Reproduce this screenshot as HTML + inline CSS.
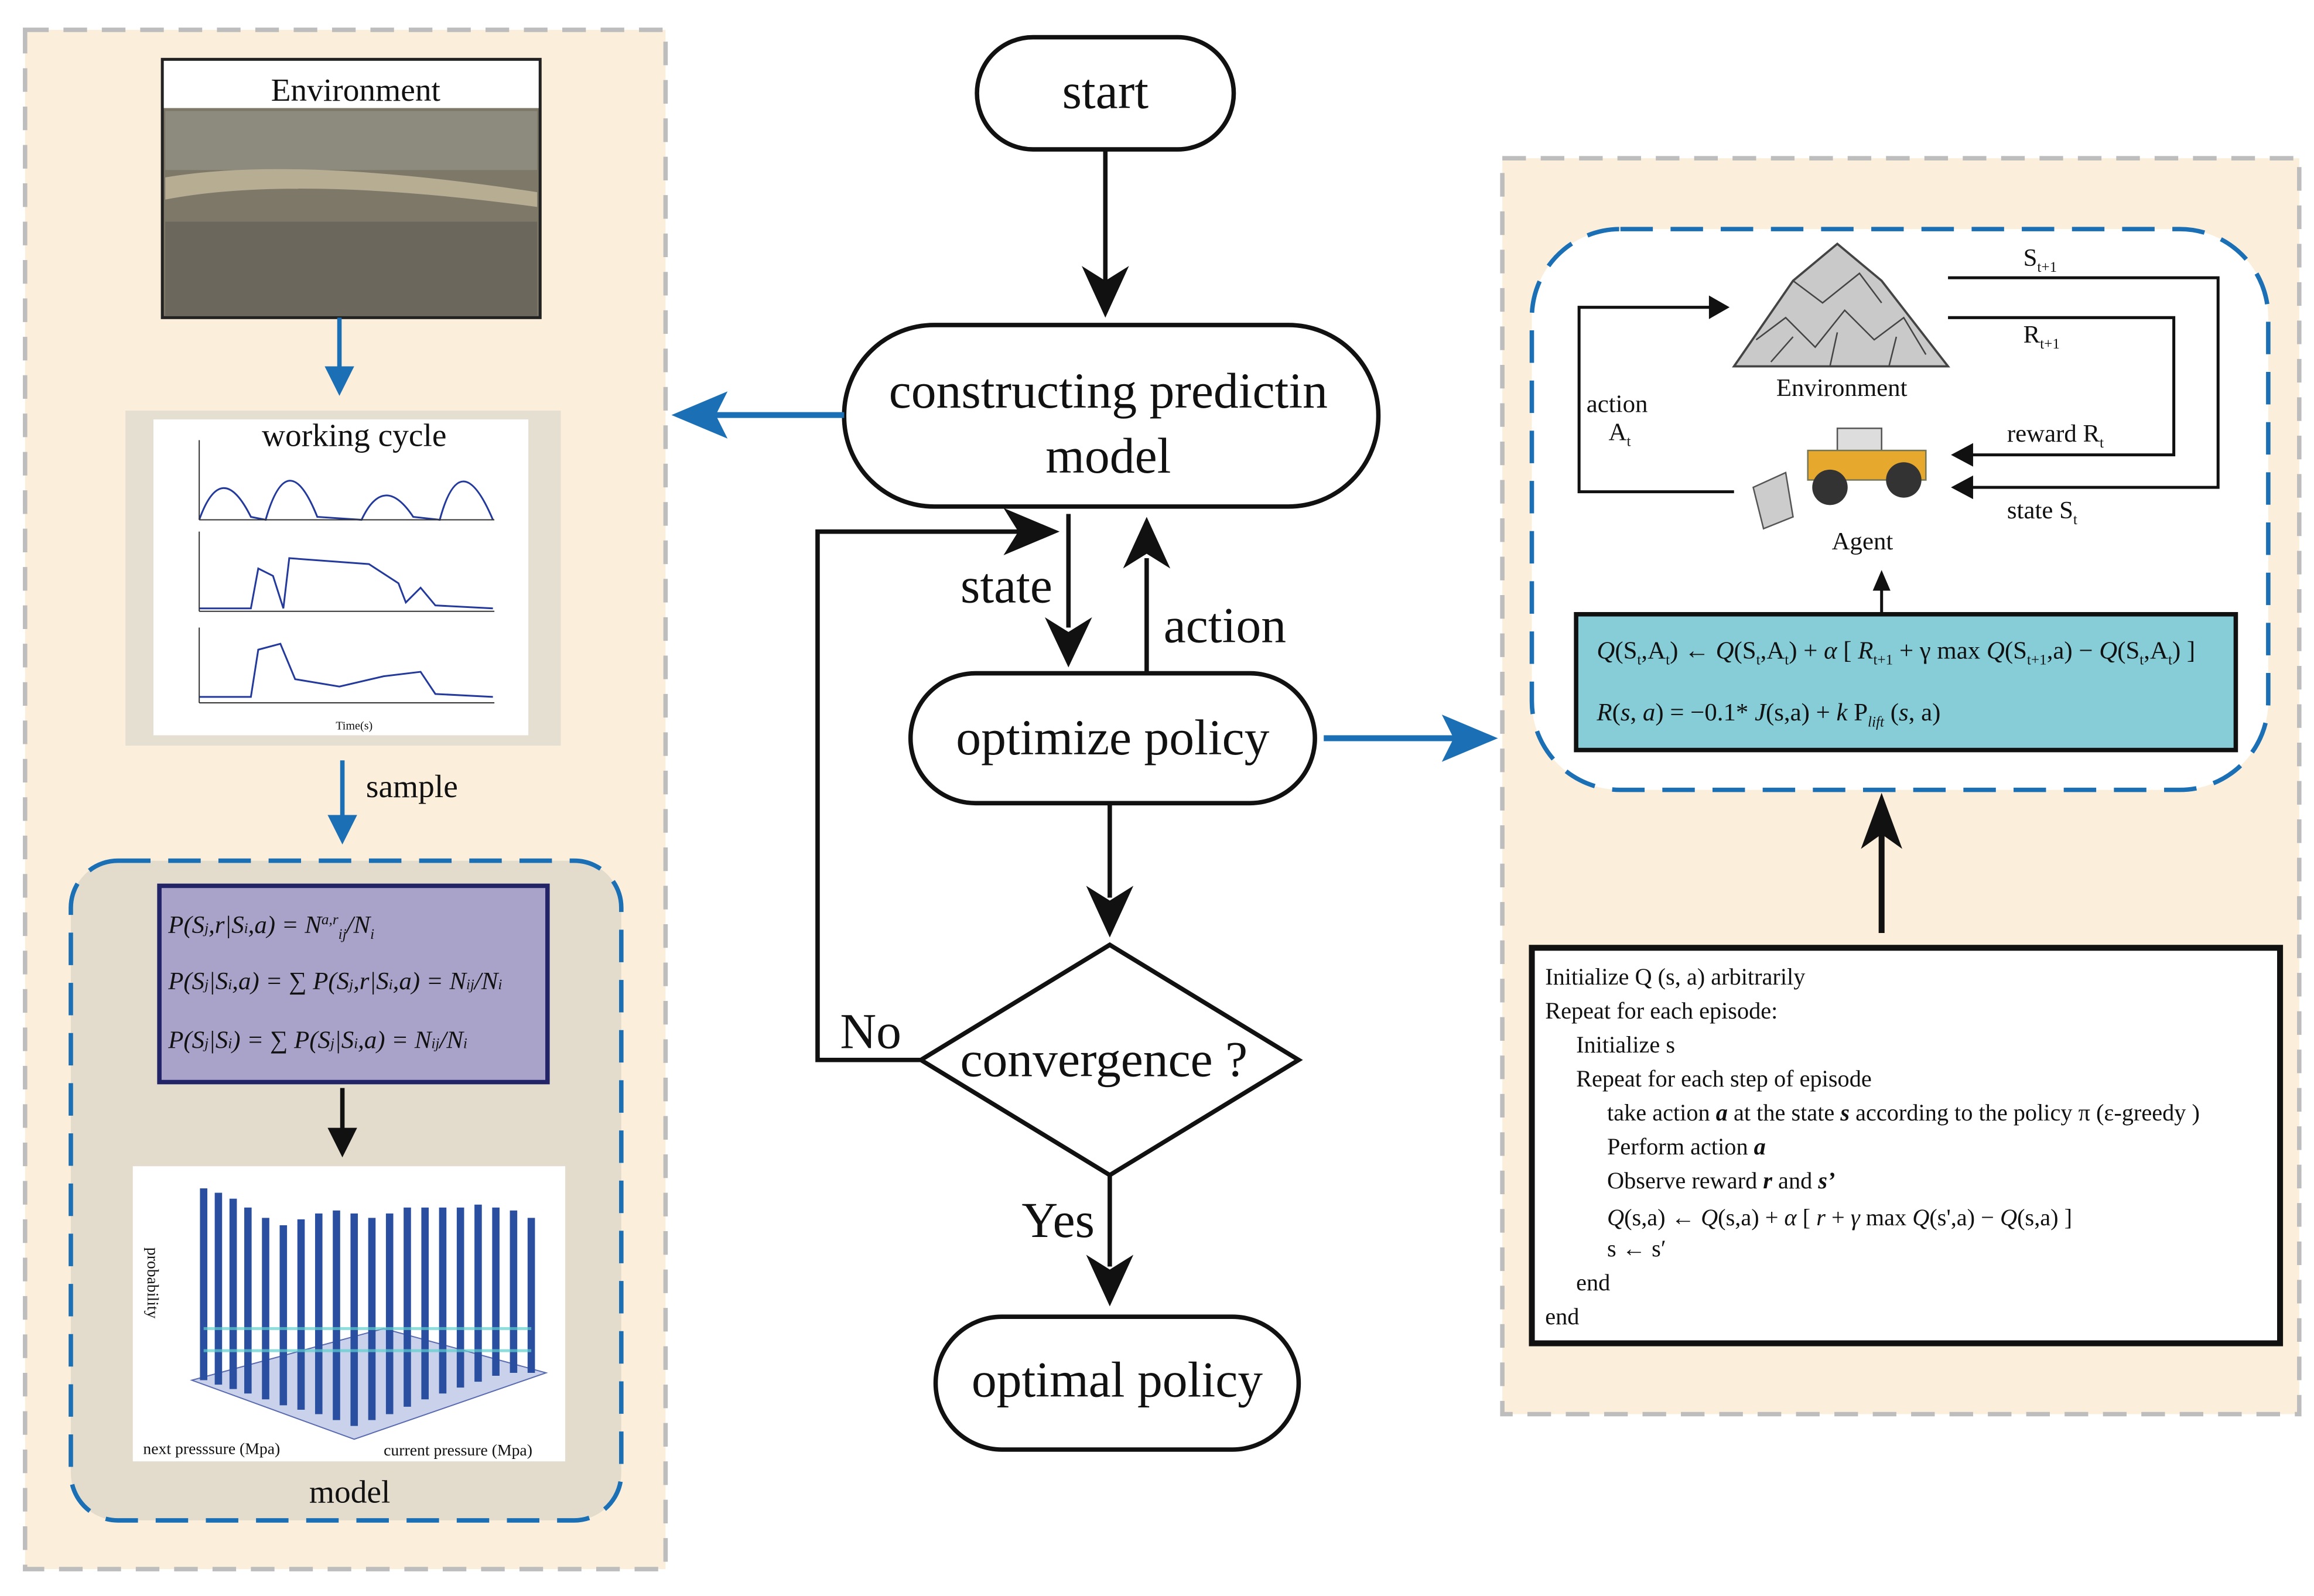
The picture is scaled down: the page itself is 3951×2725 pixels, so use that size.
<!DOCTYPE html>
<html><head><meta charset="utf-8"><style>
html,body{margin:0;padding:0;background:#fff}
svg{display:block}
text{font-family:"Liberation Serif",serif;fill:#111}
</style></head><body>
<svg width="3951" height="2725" viewBox="0 0 1568 1081" xmlns="http://www.w3.org/2000/svg">
<defs>
<marker id="ab" markerWidth="10" markerHeight="10" refX="8" refY="5" orient="auto" markerUnits="userSpaceOnUse"><path d="M0,0 L10,5 L0,10 Z" fill="#111"/></marker>
</defs>
<rect width="1568" height="1081" fill="#fff"/>
<!-- Left panel -->
<rect x="17" y="20" width="434" height="1043" fill="#fbefdb" stroke="#bdbdbd" stroke-width="3" stroke-dasharray="16,10"/>
<!-- env image -->
<rect x="110" y="40" width="256" height="175" fill="#7d7868" stroke="#222" stroke-width="2"/>
<rect x="112" y="75" width="252" height="40" fill="#8d8a7e"/>
<path d="M112,120 Q200,105 364,130 L364,140 Q200,118 112,135Z" fill="#b7ad93"/>
<rect x="112" y="150" width="252" height="64" fill="#6b675c"/>
<rect x="111" y="41" width="254" height="32" fill="#fff"/>
<text x="241" y="68" font-size="22" text-anchor="middle">Environment</text>
<!-- blue arrow -->
<line x1="230" y1="215" x2="230" y2="252" stroke="#1a6fb5" stroke-width="3"/>
<path d="M220,248 L240,248 L230,268Z" fill="#1a6fb5"/>
<!-- working cycle -->
<rect x="85" y="278" width="295" height="227" fill="#e5dfd2"/>
<rect x="104" y="284" width="254" height="214" fill="#fff"/>
<text x="240" y="302" font-size="22" text-anchor="middle">working cycle</text>
<g fill="none" stroke="#233a9c" stroke-width="1.2">
<path d="M135,352 Q150,310 170,350 L180,352 Q195,300 215,350 L245,352 Q260,320 280,350 L298,352 Q312,300 334,352"/>
<path d="M135,412 L170,412 L175,385 L185,390 L192,412 L196,378 L250,382 L270,395 L275,408 L285,398 L295,410 L334,412"/>
<path d="M135,472 L170,472 L175,440 L190,436 L200,460 L230,465 L260,458 L285,455 L295,470 L334,472"/>
</g>
<g stroke="#333" stroke-width="0.8"><line x1="135" y1="298" x2="135" y2="352"/><line x1="135" y1="352" x2="335" y2="352"/><line x1="135" y1="360" x2="135" y2="414"/><line x1="135" y1="414" x2="335" y2="414"/><line x1="135" y1="425" x2="135" y2="476"/><line x1="135" y1="476" x2="335" y2="476"/></g>
<text x="240" y="494" font-size="8" text-anchor="middle">Time(s)</text>
<!-- sample -->
<line x1="232" y1="515" x2="232" y2="556" stroke="#1a6fb5" stroke-width="3"/>
<path d="M222,552 L242,552 L232,572Z" fill="#1a6fb5"/>
<text x="248" y="540" font-size="22">sample</text>
<!-- model box -->
<rect x="48" y="583" width="373" height="447" rx="32" fill="#e3dccc" stroke="#1a6fb5" stroke-width="3" stroke-dasharray="22,12"/>
<rect x="108" y="600" width="263" height="133" fill="#a9a3c9" stroke="#232368" stroke-width="3"/>
<g font-size="17" font-style="italic">
<text x="114" y="632">P(S<tspan font-size="10">j</tspan>,r|S<tspan font-size="10">i</tspan>,a) = N<tspan font-size="10" dy="-6">a,r</tspan><tspan font-size="10" dy="10">ij</tspan><tspan dy="-4">/N</tspan><tspan font-size="10" dy="4">i</tspan></text>
<text x="114" y="670">P(S<tspan font-size="10">j</tspan>|S<tspan font-size="10">i</tspan>,a) = ∑ P(S<tspan font-size="10">j</tspan>,r|S<tspan font-size="10">i</tspan>,a) = N<tspan font-size="10">ij</tspan>/N<tspan font-size="10">i</tspan></text>
<text x="114" y="710">P(S<tspan font-size="10">j</tspan>|S<tspan font-size="10">i</tspan>) = ∑ P(S<tspan font-size="10">j</tspan>|S<tspan font-size="10">i</tspan>,a) = N<tspan font-size="10">ij</tspan>/N<tspan font-size="10">i</tspan></text>
</g>
<line x1="232" y1="737" x2="232" y2="768" stroke="#111" stroke-width="3"/>
<path d="M222,764 L242,764 L232,784Z" fill="#111"/>
<!-- chart -->
<rect x="90" y="790" width="293" height="200" fill="#fff"/>
<path d="M130,935 L240,975 L370,930 L260,900Z" fill="#c9d2ea" stroke="#5a6bb0" stroke-width="0.8"/>
<g stroke="#2b4fa0" stroke-width="5">
<line x1="138" y1="805" x2="138" y2="935"/><line x1="148" y1="808" x2="148" y2="938"/><line x1="158" y1="812" x2="158" y2="941"/><line x1="168" y1="818" x2="168" y2="944"/><line x1="180" y1="825" x2="180" y2="948"/><line x1="192" y1="830" x2="192" y2="952"/><line x1="204" y1="826" x2="204" y2="955"/><line x1="216" y1="822" x2="216" y2="958"/><line x1="228" y1="820" x2="228" y2="962"/><line x1="240" y1="822" x2="240" y2="966"/><line x1="252" y1="825" x2="252" y2="962"/><line x1="264" y1="822" x2="264" y2="958"/><line x1="276" y1="818" x2="276" y2="953"/><line x1="288" y1="818" x2="288" y2="948"/><line x1="300" y1="818" x2="300" y2="944"/><line x1="312" y1="818" x2="312" y2="940"/><line x1="324" y1="816" x2="324" y2="936"/><line x1="336" y1="818" x2="336" y2="932"/><line x1="348" y1="820" x2="348" y2="930"/><line x1="360" y1="825" x2="360" y2="930"/>
</g>
<g stroke="#5fd0d0" stroke-width="2" opacity="0.7"><line x1="138" y1="900" x2="360" y2="900"/><line x1="138" y1="915" x2="360" y2="915"/></g>
<text x="95" y="850" font-size="11" transform="rotate(90 100 850)">probability</text>
<text x="97" y="985" font-size="11">next presssure (Mpa)</text>
<text x="260" y="986" font-size="11">current pressure (Mpa)</text>
<text x="237" y="1018" font-size="22" text-anchor="middle">model</text>

<!-- Center flow -->
<g fill="#fff" stroke="#111" stroke-width="3">
<rect x="662" y="25" width="174" height="76" rx="38"/>
<rect x="572" y="220" width="362" height="123" rx="61"/>
<rect x="617" y="456" width="274" height="88" rx="44"/>
<path d="M624,718 L752,640 L880,718 L752,796Z"/>
<rect x="634" y="892" width="246" height="90" rx="45"/>
</g>
<g font-size="34" text-anchor="middle">
<text x="749" y="73">start</text>
<text x="751" y="276">constructing predictin</text>
<text x="751" y="320">model</text>
<text x="754" y="511">optimize policy</text>
<text x="748" y="729">convergence ?</text>
<text x="757" y="946">optimal policy</text>
<text x="682" y="408">state</text>
<text x="830" y="435">action</text>
<text x="590" y="710">No</text>
<text x="717" y="838">Yes</text>
</g>
<g stroke="#111" stroke-width="3" fill="none">
<line x1="749" y1="101" x2="749" y2="190"/>
<line x1="724" y1="348" x2="724" y2="425"/>
<line x1="777" y1="455" x2="777" y2="378"/>
<line x1="752" y1="544" x2="752" y2="608"/>
<line x1="752" y1="796" x2="752" y2="858"/>
<path d="M624,718 L554,718 L554,360 L690,360"/>
</g>
<g fill="#111">
<path d="M733,180 L749,215 L765,180 L749,190Z"/>
<path d="M708,418 L724,452 L740,418 L724,428Z"/>
<path d="M761,385 L777,350 L793,385 L777,375Z"/>
<path d="M736,600 L752,635 L768,600 L752,610Z"/>
<path d="M736,850 L752,885 L768,850 L752,860Z"/>
<path d="M680,344 L718,360 L680,376 L690,360Z"/>
</g>
<!-- blue side arrows -->
<line x1="572" y1="281" x2="485" y2="281" stroke="#1a6fb5" stroke-width="4"/>
<path d="M493,265 L455,281 L493,297 L485,281Z" fill="#1a6fb5"/>
<line x1="897" y1="500" x2="985" y2="500" stroke="#1a6fb5" stroke-width="4"/>
<path d="M977,484 L1015,500 L977,516 L985,500Z" fill="#1a6fb5"/>

<!-- Right panel -->
<rect x="1018" y="107" width="540" height="851" fill="#fbefdb" stroke="#bdbdbd" stroke-width="3" stroke-dasharray="16,10"/>
<rect x="1038" y="155" width="499" height="380" rx="60" fill="#fff" stroke="#1a6fb5" stroke-width="3" stroke-dasharray="22,12"/>
<!-- rock pile -->
<path d="M1175,248 L1215,190 L1245,165 L1275,190 L1320,248Z" fill="#c9c9c9" stroke="#444" stroke-width="1.5"/>
<g stroke="#444" stroke-width="1" fill="none"><path d="M1190,230 L1210,215 L1230,235 L1250,210 L1270,230 L1290,215 L1305,240 M1215,190 L1235,205 L1260,185 L1275,205 M1200,245 L1215,228 M1240,248 L1245,225 M1280,248 L1285,228"/></g>
<text x="1248" y="268" font-size="17" text-anchor="middle">Environment</text>
<!-- loader -->
<g>
<rect x="1245" y="290" width="30" height="22" fill="#ddd" stroke="#555"/>
<rect x="1225" y="305" width="80" height="20" fill="#e6a92e" stroke="#775" stroke-width="1"/>
<circle cx="1240" cy="330" r="12" fill="#333"/><circle cx="1290" cy="325" r="12" fill="#333"/>
<path d="M1188,330 L1210,320 L1215,350 L1195,358Z" fill="#ccc" stroke="#555"/>
</g>
<text x="1262" y="372" font-size="17" text-anchor="middle">Agent</text>
<g stroke="#111" stroke-width="2" fill="none">
<path d="M1175,333 L1070,333 L1070,208 L1160,208"/>
<path d="M1320,188 L1503,188 L1503,330 L1335,330"/>
<path d="M1320,215 L1473,215 L1473,308 L1335,308"/>
<line x1="1275" y1="416" x2="1275" y2="395"/>
</g>
<g fill="#111">
<path d="M1158,200 L1172,208 L1158,216Z"/>
<path d="M1337,322 L1322,330 L1337,338Z"/>
<path d="M1337,300 L1322,308 L1337,316Z"/>
<path d="M1269,400 L1275,386 L1281,400Z"/>
</g>
<g font-size="17">
<text x="1075" y="279">action</text>
<text x="1090" y="298">A<tspan font-size="10" dy="4">t</tspan></text>
<text x="1371" y="180">S<tspan font-size="10" dy="4">t+1</tspan></text>
<text x="1371" y="232">R<tspan font-size="10" dy="4">t+1</tspan></text>
<text x="1360" y="299">reward  R<tspan font-size="10" dy="4">t</tspan></text>
<text x="1360" y="351">state  S<tspan font-size="10" dy="4">t</tspan></text>
</g>
<rect x="1068" y="416" width="447" height="92" fill="#86cdd8" stroke="#111" stroke-width="3"/>
<g font-size="17">
<text x="1082" y="446"><tspan font-style="italic">Q</tspan>(S<tspan font-size="10" dy="4">t</tspan><tspan dy="-4">,A</tspan><tspan font-size="10" dy="4">t</tspan><tspan dy="-4">) ← </tspan><tspan font-style="italic">Q</tspan>(S<tspan font-size="10" dy="4">t</tspan><tspan dy="-4">,A</tspan><tspan font-size="10" dy="4">t</tspan><tspan dy="-4">) + </tspan><tspan font-style="italic">α</tspan> [ <tspan font-style="italic">R</tspan><tspan font-size="10" dy="4">t+1</tspan><tspan dy="-4"> + γ max </tspan><tspan font-style="italic">Q</tspan>(S<tspan font-size="10" dy="4">t+1</tspan><tspan dy="-4">,a) − </tspan><tspan font-style="italic">Q</tspan>(S<tspan font-size="10" dy="4">t</tspan><tspan dy="-4">,A</tspan><tspan font-size="10" dy="4">t</tspan><tspan dy="-4">) ]</tspan></text>
<text x="1082" y="488"><tspan font-style="italic">R</tspan>(<tspan font-style="italic">s</tspan>, <tspan font-style="italic">a</tspan>) = −0.1* <tspan font-style="italic">J</tspan>(s,a) + <tspan font-style="italic">k</tspan> P<tspan font-size="10" dy="4" font-style="italic">lift</tspan><tspan dy="-4"> (</tspan><tspan font-style="italic">s</tspan>, a)</text>
</g>
<!-- big up arrow -->
<line x1="1275" y1="632" x2="1275" y2="565" stroke="#111" stroke-width="4"/>
<path d="M1261,575 L1275,537 L1289,575 L1275,565Z" fill="#111"/>
<!-- algorithm -->
<rect x="1038" y="642" width="507" height="268" fill="#fff" stroke="#111" stroke-width="4"/>
<g font-size="16">
<text x="1047" y="667">Initialize Q (s, a) arbitrarily</text>
<text x="1047" y="690">Repeat for each episode:</text>
<text x="1068" y="713">Initialize s</text>
<text x="1068" y="736">Repeat for each step of episode</text>
<text x="1089" y="759">take action <tspan font-weight="bold" font-style="italic">a</tspan> at the state <tspan font-weight="bold" font-style="italic">s</tspan> according to the policy  π  (ε-greedy )</text>
<text x="1089" y="782">Perform action <tspan font-weight="bold" font-style="italic">a</tspan></text>
<text x="1089" y="805">Observe reward <tspan font-weight="bold" font-style="italic">r</tspan> and <tspan font-weight="bold" font-style="italic">s’</tspan></text>
<text x="1089" y="830"><tspan font-style="italic">Q</tspan>(s,a) ← <tspan font-style="italic">Q</tspan>(s,a) + <tspan font-style="italic">α</tspan> [ <tspan font-style="italic">r</tspan> + <tspan font-style="italic">γ</tspan> max <tspan font-style="italic">Q</tspan>(s',a) − <tspan font-style="italic">Q</tspan>(s,a) ]</text>
<text x="1089" y="851">s ← s′</text>
<text x="1068" y="874">end</text>
<text x="1047" y="897">end</text>
</g>
</svg>
</body></html>
